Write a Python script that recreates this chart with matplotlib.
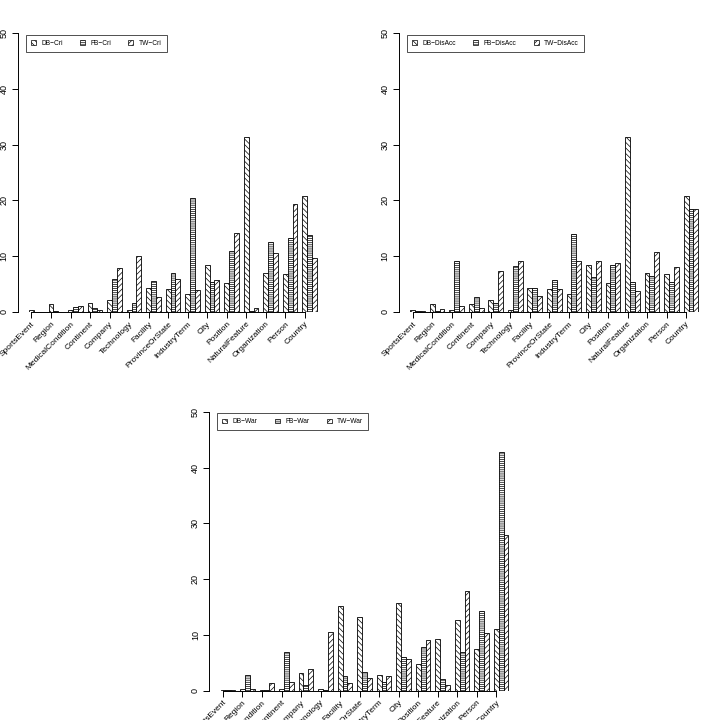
import matplotlib
matplotlib.use("Agg")
import matplotlib.pyplot as plt
from matplotlib.patches import Patch
import numpy as np

plt.rcParams['font.family'] = ['Liberation Sans', 'DejaVu Sans']
plt.rcParams['hatch.linewidth'] = 0.5

categories = ["SportsEvent", "Region", "MedicalCondition", "Continent", "Company",
              "Technology", "Facility", "ProvinceOrState", "IndustryTerm", "City",
              "Position", "NaturalFeature", "Organization", "Person", "Country"]

db_cri = [0.4, 1.4, 0.3, 1.6, 2.2, 0.3, 4.3, 4.2, 3.3, 8.4, 5.2, 31.3, 6.9, 6.8, 20.8]
fb_cri = [0.0, 0.1, 0.9, 0.8, 5.9, 1.6, 5.6, 7.0, 20.5, 5.3, 10.9, 0.1, 12.5, 13.2, 13.8]
tw_cri = [0.0, 0.0, 1.0, 0.4, 7.9, 10.0, 2.7, 5.9, 3.9, 5.8, 14.2, 0.8, 10.6, 19.3, 9.6]

db_disacc = [0.4, 1.4, 0.3, 1.5, 2.2, 0.3, 4.3, 4.1, 3.2, 8.4, 5.2, 31.3, 6.9, 6.8, 20.8]
fb_disacc = [0.1, 0.2, 9.2, 2.7, 1.7, 8.2, 4.3, 5.8, 14.0, 6.2, 8.4, 5.4, 6.4, 5.4, 18.5]
tw_disacc = [0.1, 0.6, 1.0, 0.8, 7.3, 9.1, 2.9, 4.2, 9.2, 9.2, 8.8, 3.7, 10.8, 8.0, 18.4]

db_war = [0.1, 0.3, 0.1, 0.3, 3.1, 0.3, 15.1, 13.2, 2.9, 15.7, 4.7, 9.3, 12.6, 7.4, 11.0]
fb_war = [0.1, 2.9, 0.1, 6.9, 1.1, 0.1, 2.6, 3.3, 1.5, 6.1, 7.8, 2.1, 6.9, 14.2, 42.8]
tw_war = [0.1, 0.3, 1.3, 1.5, 3.8, 10.5, 1.3, 2.3, 2.7, 5.6, 9.0, 1.0, 17.8, 10.4, 27.9]

hatches = ['\\\\\\\\\\\\', '--------', '//////']

W, H = 712, 720
fig = plt.figure(figsize=(W / 100, H / 100), dpi=100)


def panel(left_px, bottom_px, series, names):
    ax = fig.add_axes([left_px / W, bottom_px / H, 311 / W, 279 / H])
    n = len(categories)
    g = np.arange(n)
    for j, (vals, hat) in enumerate(zip(series, hatches)):
        ax.bar(1 + 4 * g + j + 0.5, vals, width=1.0, facecolor='white',
               edgecolor='black', linewidth=0.6, hatch=hat)
    ax.set_xlim(-1.36, 62.36)
    ax.set_ylim(0, 50)
    for s in ['top', 'right']:
        ax.spines[s].set_visible(False)
    ax.spines['left'].set_bounds(0, 50)
    ax.spines['left'].set_linewidth(0.7)
    ax.spines['bottom'].set_bounds(1.5, 1.5 + 4 * (n - 1))
    ax.spines['bottom'].set_linewidth(0.7)
    ax.set_yticks([0, 10, 20, 30, 40, 50])
    ax.set_yticklabels(['0', '10', '20', '30', '40', '50'], rotation=90,
                       va='center', fontsize=6.5)
    ax.set_xticks(1.5 + 4 * g)
    ax.set_xticklabels(categories, rotation=45, ha='right',
                       rotation_mode='anchor', fontsize=6)
    ax.tick_params(axis='both', length=4, width=0.7, color='black', pad=2.5)
    ax.tick_params(axis='x', pad=2)
    handles = [Patch(facecolor='white', edgecolor='black', linewidth=0.5, hatch=h)
               for h in hatches]
    leg = ax.legend(handles, names, loc='upper left', bbox_to_anchor=(0.027, 0.994),
                    borderaxespad=0, ncol=3, fontsize=4.8, frameon=True,
                    fancybox=False, handlelength=0.75, handleheight=0.75,
                    handletextpad=0.8, columnspacing=2.6, borderpad=0.75)
    leg.get_frame().set_edgecolor('black')
    leg.get_frame().set_linewidth(0.6)
    return ax


panel(17.5, 720 - 312, [db_cri, fb_cri, tw_cri], ['DB\u2212Cri', 'FB\u2212Cri', 'TW\u2212Cri'])
panel(398.8, 720 - 312, [db_disacc, fb_disacc, tw_disacc],
      ['DB\u2212DisAcc', 'FB\u2212DisAcc', 'TW\u2212DisAcc'])
panel(209, 720 - 690.7, [db_war, fb_war, tw_war], ['DB\u2212War', 'FB\u2212War', 'TW\u2212War'])

fig.savefig('out.png', dpi=100)
